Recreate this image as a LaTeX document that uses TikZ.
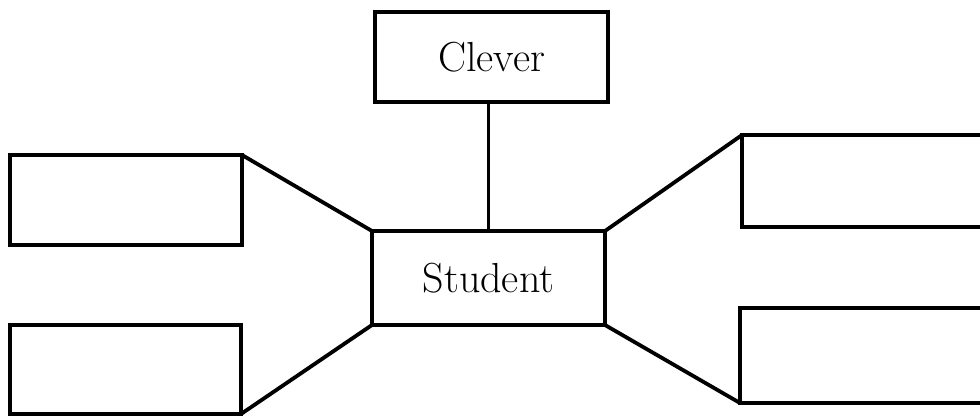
\documentclass[tikz,border=0pt]{standalone}
\begin{document}
\begin{tikzpicture}[x=1pt,y=-1pt,
  boxnode/.style={draw,line width=3.8pt,rectangle,inner sep=0pt,outer sep=0pt,font=\fontsize{42}{50}\selectfont},
  link/.style={line width=3.8pt}]
\useasboundingbox (0,0) rectangle (980,417);
\clip (0,0) rectangle (980,417);
\node[boxnode,minimum width=233pt,minimum height=90pt] (clever) at (491.5,57) {Clever};
\node[boxnode,minimum width=233pt,minimum height=94pt] (student) at (488.5,278) {Student};
\node[boxnode,minimum width=232pt,minimum height=90pt] (lt) at (126,200) {};
\node[boxnode,minimum width=231pt,minimum height=89pt] (lb) at (125.5,369.5) {};
\node[boxnode,minimum width=258pt,minimum height=92pt] (rt) at (871,181) {};
\node[boxnode,minimum width=260pt,minimum height=95pt] (rb) at (870,355.5) {};
\draw[link] (student.north) -- (student.north |- clever.south);
\draw[link] (lt.north east) -- (student.north west);
\draw[link] (lb.south east) -- (student.south west);
\draw[link] (student.north east) -- (rt.north west);
\draw[link] (student.south east) -- (rb.south west);
\end{tikzpicture}
\end{document}
